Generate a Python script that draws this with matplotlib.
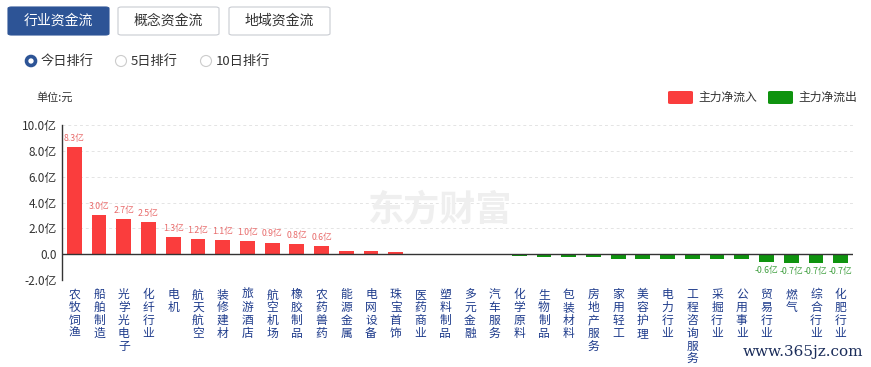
"""Recreate the 行业资金流 bar chart (main net inflow by industry)."""

import matplotlib

matplotlib.use("Agg")

import matplotlib.pyplot as plt
from matplotlib.patches import Ellipse, FancyBboxPatch

plt.rcParams["font.family"] = ["Noto Sans CJK SC", "DejaVu Sans"]

W, H = 871, 367

industries = [
    "农牧饲渔", "船舶制造", "光学光电子", "化纤行业", "电机", "航天航空",
    "装修建材", "旅游酒店", "航空机场", "橡胶制品", "农药兽药", "能源金属",
    "电网设备", "珠宝首饰", "医药商业", "塑料制品", "多元金融", "汽车服务",
    "化学原料", "生物制品", "包装材料", "房地产服务", "家用轻工", "美容护理",
    "电力行业", "工程咨询服务", "采掘行业", "公用事业", "贸易行业", "燃气",
    "综合行业", "化肥行业",
]
# net main inflow, 亿元
net_flow = [
    8.3, 3.0, 2.7, 2.5, 1.3, 1.2, 1.1, 1.0, 0.9, 0.8, 0.6, 0.28,
    0.22, 0.16, 0.03, 0.02, 0.01, -0.02,
    -0.18, -0.25, -0.25, -0.25, -0.36, -0.36, -0.36, -0.38, -0.38, -0.4,
    -0.6, -0.7, -0.7, -0.7,
]
# which bars carry a value label
labelled = [True] * 11 + [False] * 17 + [True] * 4

y_ticks = [-2, 0, 2, 4, 6, 8, 10]
y_tick_labels = ["-2.0亿", "0.0", "2.0亿", "4.0亿", "6.0亿", "8.0亿", "10.0亿"]

tabs = ["行业资金流", "概念资金流", "地域资金流"]
ranks = ["今日排行", "5日排行", "10日排行"]

RED = "#fa3d3d"
GREEN = "#0f930f"
LABEL_BLUE = "#1f3c8c"


def fx(px):
    return px / W


def fy(py):
    return 1 - py / H


def main():
    fig = plt.figure(figsize=(W / 100, H / 100), dpi=100)

    # tab buttons
    tab_x = [8, 118, 229]
    for i, (name, x0) in enumerate(zip(tabs, tab_x)):
        active = i == 0
        box = FancyBboxPatch(
            (fx(x0), fy(35)), fx(101), 28 / H,
            boxstyle="round,pad=0,rounding_size=0.004",
            transform=fig.transFigure,
            facecolor="#2d5496" if active else "white",
            edgecolor="#2d5496" if active else "#c9ccd2",
            linewidth=0.8,
        )
        fig.patches.append(box)
        fig.text(fx(x0 + 50.5), fy(21), name, ha="center", va="center",
                 fontsize=10, color="white" if active else "#333333")

    # radio buttons
    radio_x = [31, 121, 206]
    for i, (name, cx) in enumerate(zip(ranks, radio_x)):
        active = i == 0
        fig.patches.append(Ellipse(
            (fx(cx), fy(61)), (9 if active else 11) / W,
            (9 if active else 11) / H, transform=fig.transFigure,
            facecolor="white",
            edgecolor="#2d5496" if active else "#cccccc",
            linewidth=2.6 if active else 0.8,
        ))
        fig.text(fx(cx + 10), fy(61), name, ha="left", va="center",
                 fontsize=9.5, color="#333333")

    fig.text(fx(36), fy(97), "单位:元", ha="left", va="center",
             fontsize=8, color="#333333")

    # legend
    for x0, color, name in [(668, RED, "主力净流入"), (768, GREEN, "主力净流出")]:
        fig.patches.append(FancyBboxPatch(
            (fx(x0), fy(104)), fx(25), 13 / H,
            boxstyle="round,pad=0,rounding_size=0.003",
            transform=fig.transFigure, facecolor=color, edgecolor="none",
        ))
        fig.text(fx(x0 + 30), fy(97.5), name, ha="left", va="center",
                 fontsize=8.5, color="#333333")

    ax = fig.add_axes([fx(62), fy(280), fx(853 - 62), (280 - 125) / H])
    n = len(industries)
    xs = list(range(n))
    colors = [RED if v >= 0 else GREEN for v in net_flow]
    ax.bar(xs, net_flow, width=0.6, color=colors, zorder=3)

    for x, v, show in zip(xs, net_flow, labelled):
        if not show:
            continue
        if v >= 0:
            ax.annotate(f"{v:.1f}亿", (x, v), xytext=(0, 3),
                        textcoords="offset points", ha="center", va="bottom",
                        fontsize=6.3, color="#e86a6a")
        else:
            ax.annotate(f"{v:.1f}亿", (x, v), xytext=(0, -3),
                        textcoords="offset points", ha="center", va="top",
                        fontsize=6.3, color="#3f9f3f")

    ax.set_xlim(-0.5, n - 0.5)
    ax.set_ylim(-2, 10)
    ax.set_yticks(y_ticks)
    ax.set_yticklabels(y_tick_labels, fontsize=8.5, color="#333333")
    ax.tick_params(axis="y", length=0, pad=4)
    ax.set_xticks(xs)
    ax.set_xticklabels(["\n".join(name) for name in industries],
                       fontsize=8.5, color=LABEL_BLUE, va="top",
                       linespacing=0.98)
    ax.tick_params(axis="x", length=0, pad=6)

    ax.grid(axis="y", color="#e4e4e4", linestyle=(0, (3, 3)), linewidth=0.7,
            zorder=0)
    ax.axhline(0, color="#333333", linewidth=1, zorder=4)
    for side in ["top", "right", "bottom"]:
        ax.spines[side].set_visible(False)
    ax.spines["left"].set_color("#333333")
    ax.spines["left"].set_linewidth(1)

    # watermarks
    fig.text(fx(440), fy(210), "东方财富", ha="center", va="center",
             fontsize=26, fontweight="bold", color="#efefef", zorder=0)
    fig.text(fx(803), fy(352), "www.365jz.com", ha="center", va="center",
             fontsize=11, family="DejaVu Serif", color="#1b2d5a")

    fig.savefig("out.png", dpi=100)


if __name__ == "__main__":
    main()
